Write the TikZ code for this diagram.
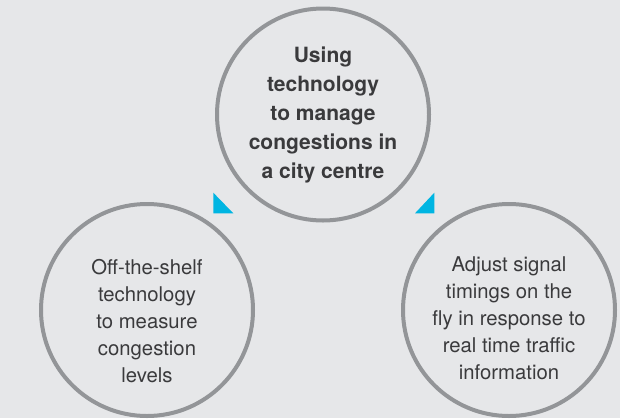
\documentclass[tikz,border=0pt]{standalone}
\usepackage{fontspec}
\setmainfont{TeX Gyre Heros}
\definecolor{bgc}{HTML}{E6E7E9}
\definecolor{ringc}{HTML}{939598}
\definecolor{txtc}{HTML}{3A3A3C}
\definecolor{accent}{HTML}{00B5E2}
\tikzset{
  ring/.style={circle, draw=ringc, line width=4pt, minimum size=212pt, inner sep=0pt},
  boldtxt/.style={text=txtc, align=center, font=\fontsize{21}{29}\selectfont\bfseries, inner sep=0pt},
  plaintxt/.style={text=txtc, align=center, font=\fontsize{20.3}{27}\selectfont, inner sep=0pt},
  marker/.style={fill=accent, draw=none}
}
\begin{document}
\begin{tikzpicture}[x=1pt,y=-1pt]
\useasboundingbox (0,0) rectangle (620,418);
\fill[bgc] (0,0) rectangle (620,418);
\begin{scope}
\clip (0,0) rectangle (620,418);
\node[ring] (top) at (323,114.5) {};
\node[ring] (left) at (147,310) {};
\node[ring] (right) at (509,310) {};
\end{scope}
\node[boldtxt] (toptxt) at (top.center) {Using\\technology\\to manage\\congestions in\\a city centre};
\node[plaintxt] (lefttxt) at (147,321) {Off-the-shelf\\technology\\to measure\\congestion\\levels};
\node[plaintxt] (righttxt) at (509,318) {Adjust signal\\timings on the\\fly in response to\\real time traffic\\information};
\fill[marker] (213.3,192.7) -- (213.3,213.3) -- (233.3,213.3) -- cycle;
\fill[marker] (434.3,192.7) -- (434.3,213.3) -- (415,213.3) -- cycle;
\end{tikzpicture}
\end{document}
